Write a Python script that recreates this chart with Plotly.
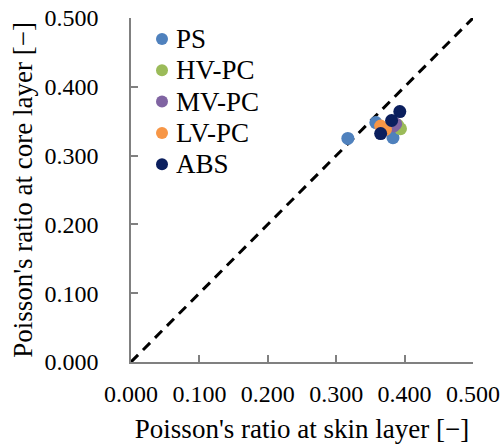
import plotly.graph_objects as go

series_names = ["PS", "HV-PC", "MV-PC", "LV-PC", "ABS"]
colors = ["#4F81BD", "#9BBB59", "#8064A2", "#F79646", "#0B1F5E"]
skin_values = [
    [0.317, 0.358, 0.383],
    [0.394, 0.390],
    [0.387, 0.384],
    [0.365, 0.372],
    [0.393, 0.381, 0.365],
]
core_values = [
    [0.325, 0.348, 0.326],
    [0.339, 0.344],
    [0.346, 0.343],
    [0.343, 0.338],
    [0.364, 0.351, 0.332],
]
diag = [0.0, 0.5]
tick_vals = [0.0, 0.1, 0.2, 0.3, 0.4, 0.5]
tick_text = ["0.000", "0.100", "0.200", "0.300", "0.400", "0.500"]

font_family = "Liberation Serif, Times New Roman, serif"

W, H = 502, 446
ML, MR, MT, MB = 131, 29, 18, 84
PW, PH = W - ML - MR, H - MT - MB


def px_to_paper(px, py):
    return (px - ML) / PW, (H - MB - py) / PH


fig = go.Figure()
fig.add_trace(go.Scatter(x=diag, y=diag, mode="lines",
                         line=dict(color="black", width=3, dash="10px,7px"),
                         showlegend=False, hoverinfo="skip"))
for name, col, xs, ys in zip(series_names, colors, skin_values, core_values):
    fig.add_trace(go.Scatter(x=xs, y=ys, mode="markers", name=name,
                             marker=dict(color=col, size=13, line=dict(width=0)),
                             showlegend=False))

# manual legend
for i, (name, col) in enumerate(zip(series_names, colors)):
    cy = 39 + 31.3 * i
    mx, my = px_to_paper(162, cy)
    tx, _ = px_to_paper(174, cy)
    fig.add_shape(type="circle", xref="paper", yref="paper",
                  xsizemode="pixel", ysizemode="pixel",
                  xanchor=mx, yanchor=my, x0=-6, x1=6, y0=-6, y1=6,
                  fillcolor=col, line=dict(width=0))
    fig.add_annotation(x=tx, y=my, xref="paper", yref="paper", text=name,
                       showarrow=False, xanchor="left", yanchor="middle",
                       font=dict(family=font_family, size=27, color="black"))

axis_common = dict(range=[0, 0.5], tickvals=tick_vals, ticktext=tick_text,
                   showgrid=False, zeroline=False, showline=True,
                   linecolor="#808080", linewidth=1.5, ticks="inside",
                   ticklen=7, tickcolor="#808080", tickwidth=1.5,
                   tickfont=dict(family=font_family, size=24, color="black"),
                   title_font=dict(family=font_family, size=27, color="black"),
                   automargin=False, ticklabeloverflow="allow",
                   fixedrange=True)

fig.update_layout(
    width=W, height=H,
    margin=dict(l=ML, r=MR, t=MT, b=MB, autoexpand=False),
    paper_bgcolor="white", plot_bgcolor="white",
    xaxis=dict(title=dict(text="Poisson's ratio at skin layer [−]", standoff=14),
               ticklabelstandoff=9, **axis_common),
    yaxis=dict(title=dict(text="Poisson's ratio at core layer [−]", standoff=4),
               ticklabelstandoff=26, **axis_common),
    showlegend=False,
)

fig.write_html("out.html")
